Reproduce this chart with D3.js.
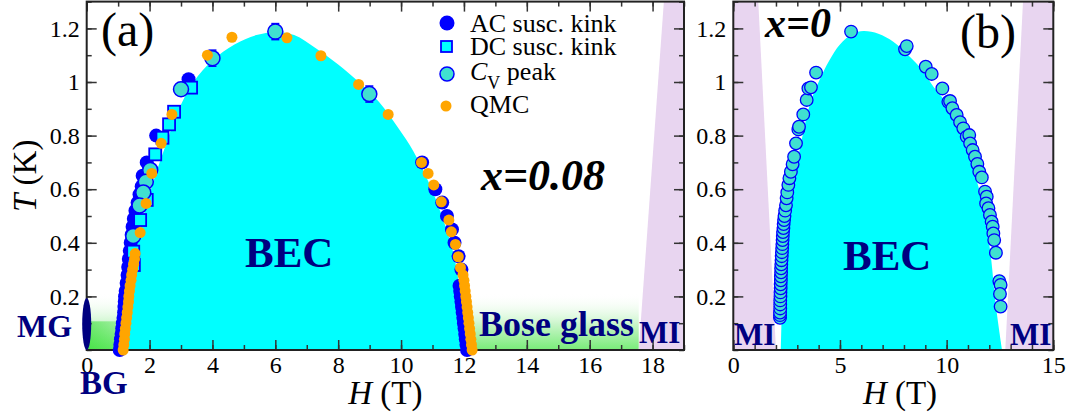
<!DOCTYPE html>
<html><head><meta charset="utf-8">
<script src="https://cdn.jsdelivr.net/npm/d3@7"></script>
<style>body{margin:0;background:#fff}</style>
</head><body>
<script>
// ---------------- DATA ----------------
// Panel (a), x = 0.08
const acH = [1.05,1.07,1.09,1.11,1.13,1.15,1.17,1.19,1.20,1.21,1.22,1.24,1.27,1.30,1.32,1.34,1.37,1.40,1.43,1.46,1.50,1.55,1.62,1.68,1.75,1.78,1.91,2.21,3.24,
             12.10,12.08,12.06,12.04,12.02,12.00,11.98,11.96,11.94,11.92,11.90,11.88,11.86,11.92,11.83,11.70,11.62,11.46,11.31,11.09,10.67];
const acT = [0.00,0.02,0.04,0.06,0.08,0.10,0.12,0.14,0.16,0.18,0.20,0.22,0.25,0.28,0.31,0.34,0.37,0.40,0.43,0.46,0.49,0.52,0.55,0.58,0.61,0.65,0.70,0.80,1.01,
             0.00,0.02,0.04,0.06,0.08,0.10,0.12,0.14,0.16,0.18,0.20,0.22,0.24,0.30,0.35,0.40,0.45,0.50,0.55,0.60,0.70];
const dcH = [3.32,2.78,2.62,2.41,2.18,1.91,1.70,1.48,1.50];
const dcT = [0.979,0.889,0.842,0.792,0.730,0.560,0.485,0.367,0.317];
const cvH = [6.00,4.00,8.99,3.00,2.02,1.88,1.80,1.68,1.48];
const cvT = [1.188,1.089,0.955,0.973,0.672,0.628,0.588,0.539,0.425];
const cvErr = [0.03,0.03,0.03,0,0,0,0,0,0];
const qmcH = [1.16,1.18,1.20,1.21,1.23,1.25,1.27,1.29,1.31,1.33,1.34,1.36,1.38,1.41,1.43,1.46,1.49,1.52,1.54,
              1.70,1.89,2.07,2.37,2.71,3.84,4.62,6.37,7.45,8.65,9.59,10.65,10.86,11.04,11.28,11.52,11.60,11.73,11.82,11.89,
              11.97,12.00,12.02,12.04,12.06,12.08,12.10,12.12,12.14,12.16,12.18,12.20,12.22,12.24,12.26];
const qmcT = [0.00,0.02,0.04,0.06,0.08,0.10,0.12,0.14,0.16,0.18,0.20,0.22,0.24,0.26,0.28,0.30,0.32,0.34,0.36,
              0.438,0.547,0.659,0.771,0.879,1.100,1.167,1.165,1.098,0.991,0.879,0.700,0.659,0.616,0.553,0.485,0.441,0.394,0.348,0.307,
              0.28,0.26,0.24,0.22,0.20,0.18,0.16,0.14,0.12,0.10,0.08,0.06,0.04,0.02,0.00];
// BEC dome boundary, panel (a)
const becAH = [1.27,1.38,1.55,1.85,2.15,2.50,2.90,3.40,4.00,4.70,5.40,6.00,6.60,7.30,8.00,8.70,9.30,9.90,10.40,10.90,11.30,11.60,11.80,11.92,11.98];
const becAT = [0.00,0.20,0.37,0.52,0.64,0.76,0.89,1.00,1.08,1.14,1.175,1.187,1.175,1.125,1.065,0.995,0.925,0.83,0.74,0.62,0.50,0.39,0.28,0.15,0.00];
// Bose glass and MI regions, panel (a)
const bgRegionH = [0, 17.56];
const bgRegionT = [0, 0.214];
const miAH = [17.56, 18.36, 19, 19];
const miAT = [0, 1.3, 1.3, 0];

// Panel (b), x = 0
const cvbH = [2.19,2.19,2.19,2.20,2.20,2.20,2.21,2.21,2.22,2.22,2.23,2.23,2.24,2.24,2.25,2.26,2.27,2.28,2.29,2.30,2.31,2.32,2.33,2.35,2.36,2.38,2.40,2.43,2.47,
              2.50,2.53,2.58,2.63,2.70,2.78,2.85,2.94,3.05,3.08,3.28,3.44,3.52,3.64,3.88,5.52,
              8.05,8.13,9.02,9.30,9.80,10.08,10.16,10.27,10.47,10.63,10.78,10.94,11.06,11.10,11.22,11.33,11.44,11.53,11.65,11.80,11.88,
              11.85,11.96,12.03,12.11,12.16,12.19,12.23,12.31,12.47,12.53,12.50,12.53];
const cvbT = [0.12,0.13,0.14,0.155,0.17,0.185,0.20,0.215,0.23,0.245,0.26,0.275,0.29,0.305,0.32,0.335,0.35,0.365,0.38,0.395,0.41,0.425,0.44,0.455,0.47,0.485,0.50,0.52,0.54,
              0.566,0.588,0.616,0.641,0.665,0.693,0.721,0.771,0.823,0.833,0.879,0.933,0.976,0.980,1.035,1.188,
              1.122,1.134,1.057,1.030,0.976,0.926,0.929,0.902,0.877,0.850,0.827,0.796,0.802,0.771,0.746,0.721,0.694,0.665,0.644,0.591,0.572,
              0.547,0.529,0.504,0.479,0.460,0.435,0.410,0.363,0.257,0.243,0.209,0.162];
const becBH = [2.23,2.28,2.38,2.55,2.80,3.00,3.30,3.60,4.00,4.50,5.00,5.60,6.10,6.80,7.50,8.20,8.80,9.40,9.90,10.40,10.90,11.30,11.65,11.90,12.10,12.27,12.45,12.60];
const becBT = [0.00,0.15,0.30,0.45,0.60,0.70,0.82,0.92,1.00,1.08,1.14,1.18,1.19,1.18,1.15,1.10,1.05,0.98,0.93,0.85,0.75,0.66,0.56,0.45,0.33,0.19,0.08,0.00];
const miBLeftH = [0, 2.0, 1.17, 0];
const miBLeftT = [0, 0, 1.3, 1.3];
const miBRightH = [12.75, 13.58, 15, 15];
const miBRightT = [0, 1.3, 1.3, 0];

// ticks
const xTicksA = [0,2,4,6,8,10,12,14,16,18];
const xTicksB = [0,5,10,15];
const yTicks = [0.2,0.4,0.6,0.8,1,1.2];
const legendLabels = ["AC susc. kink","DC susc. kink","C","QMC"];

// ---------------- DRAW ----------------
const W = 1072, H = 415;
const FONT = "Liberation Serif";
const NAVY = "#000080";
const svg = d3.select("body").append("svg").attr("width", W).attr("height", H);
const defs = svg.append("defs");
const grad = defs.append("linearGradient").attr("id","bgGrad").attr("x1",0).attr("x2",0).attr("y1",0).attr("y2",1);
grad.append("stop").attr("offset",0).attr("stop-color","#ffffff").attr("stop-opacity",0);
grad.append("stop").attr("offset",0.55).attr("stop-color","#c9f5c9").attr("stop-opacity",1);
grad.append("stop").attr("offset",1).attr("stop-color","#78ec78").attr("stop-opacity",1);
const grad2 = defs.append("linearGradient").attr("id","bgGrad2").attr("x1",0).attr("x2",1).attr("y1",0).attr("y2",0);
grad2.append("stop").attr("offset",0).attr("stop-color","#22dd22").attr("stop-opacity",0.55);
grad2.append("stop").attr("offset",0.12).attr("stop-color","#22dd22").attr("stop-opacity",0);

const yA = d3.scaleLinear([0,1.3],[350,1.6]);
const xA = d3.scaleLinear([0,19],[86.7,684]);
const xB = d3.scaleLinear([0,15],[733.3,1053.3]);
const yB = yA;

const zip = (a,b,c) => a.map((v,i)=>({h:v,t:b[i],e:c?c[i]:0}));
const poly = (x,y,hs,ts) => hs.map((h,i)=>[x(h),y(ts[i])].join(",")).join(" ");

function drawAxes(g, x, y, xMajor, xStep, xMax) {
  const xMinor = d3.range(0, xMax + 1e-9, xStep);
  const yMinor = d3.range(0, 1.3 + 1e-9, 0.1);
  const style = sel => {
    sel.select(".domain").remove();
    sel.selectAll("line").attr("stroke","#333").attr("stroke-width",1.5);
    sel.attr("font-family", FONT).attr("font-size", 24);
    sel.selectAll("text").attr("fill","#000");
  };
  g.append("g").attr("transform",`translate(0,${y(0)})`).call(d3.axisBottom(x).tickValues(xMinor).tickSize(-5).tickFormat("")).call(style);
  g.append("g").attr("transform",`translate(0,${y(1.3)})`).call(d3.axisTop(x).tickValues(xMinor).tickSize(-5).tickFormat("")).call(style);
  g.append("g").attr("transform",`translate(${x(0)},0)`).call(d3.axisLeft(y).tickValues(yMinor).tickSize(-5).tickFormat("")).call(style);
  g.append("g").attr("transform",`translate(${x(xMax)},0)`).call(d3.axisRight(y).tickValues(yMinor).tickSize(-5).tickFormat("")).call(style);
  g.append("g").attr("transform",`translate(0,${y(0)})`).call(d3.axisBottom(x).tickValues(xMajor).tickSize(-10).tickPadding(6).tickFormat(d=>d)).call(style);
  g.append("g").attr("transform",`translate(0,${y(1.3)})`).call(d3.axisTop(x).tickValues(xMajor).tickSize(-10).tickFormat("")).call(style);
  g.append("g").attr("transform",`translate(${x(0)},0)`).call(d3.axisLeft(y).tickValues(yTicks).tickSize(-10).tickPadding(7).tickFormat(d=>d)).call(style);
  g.append("g").attr("transform",`translate(${x(xMax)},0)`).call(d3.axisRight(y).tickValues(yTicks).tickSize(-10).tickFormat("")).call(style);
  g.append("rect").attr("x",x(0)).attr("y",y(1.3)).attr("width",x(xMax)-x(0)).attr("height",y(0)-y(1.3))
    .attr("fill","none").attr("stroke","#222").attr("stroke-width",2);
}

const dome = (x,y) => d3.area().x(d=>x(d.h)).y0(y(0)).y1(d=>y(d.t)).curve(d3.curveCatmullRom.alpha(0.5));

// ===== Panel (a) =====
const ga = svg.append("g");
ga.append("rect").attr("x",xA(bgRegionH[0])).attr("y",yA(bgRegionT[1])).attr("width",xA(bgRegionH[1])-xA(bgRegionH[0])).attr("height",yA(bgRegionT[0])-yA(bgRegionT[1])).attr("fill","url(#bgGrad)");
ga.append("rect").attr("x",xA(bgRegionH[0])).attr("y",yA(bgRegionT[1]*0.5)).attr("width",xA(bgRegionH[1])-xA(bgRegionH[0])).attr("height",yA(0)-yA(bgRegionT[1]*0.5)).attr("fill","url(#bgGrad2)");
ga.append("polygon").attr("points",poly(xA,yA,miAH,miAT)).attr("fill","#e8d5f0");
ga.append("path").datum(zip(becAH,becAT)).attr("d",dome(xA,yA)).attr("fill","#00ffff");
drawAxes(ga, xA, yA, xTicksA, 1, 19);

ga.append("ellipse").attr("cx",xA(0)).attr("cy",yA(0.097)).attr("rx",4.5).attr("ry",26).attr("fill",NAVY);

ga.append("g").selectAll("circle").data(zip(acH,acT)).join("circle")
  .attr("cx",d=>xA(d.h)).attr("cy",d=>yA(d.t)).attr("r",7).attr("fill","#0000ff");
ga.append("g").selectAll("rect").data(zip(dcH,dcT)).join("rect")
  .attr("x",d=>xA(d.h)-6).attr("y",d=>yA(d.t)-6).attr("width",12).attr("height",12)
  .attr("fill","#00ffff").attr("stroke","#0000ff").attr("stroke-width",1.8);
const eb = ga.append("g").attr("stroke","#0000ff").attr("stroke-width",1.5);
zip(cvH,cvT,cvErr).filter(d=>d.e>0).forEach(d=>{
  eb.append("line").attr("x1",xA(d.h)).attr("x2",xA(d.h)).attr("y1",yA(d.t-d.e)).attr("y2",yA(d.t+d.e));
  eb.append("line").attr("x1",xA(d.h)-4).attr("x2",xA(d.h)+4).attr("y1",yA(d.t-d.e)).attr("y2",yA(d.t-d.e));
  eb.append("line").attr("x1",xA(d.h)-4).attr("x2",xA(d.h)+4).attr("y1",yA(d.t+d.e)).attr("y2",yA(d.t+d.e));
});
ga.append("g").selectAll("circle").data(zip(cvH,cvT)).join("circle")
  .attr("cx",d=>xA(d.h)).attr("cy",d=>yA(d.t)).attr("r",7.5)
  .attr("fill","#40e0d0").attr("stroke","#0000ff").attr("stroke-width",1.5);
ga.append("g").selectAll("circle").data(zip(qmcH,qmcT)).join("circle")
  .attr("cx",d=>xA(d.h)).attr("cy",d=>yA(d.t)).attr("r",5.5).attr("fill","#ffa500");

// legend
const lg = ga.append("g").attr("font-family",FONT).attr("font-size",26);
lg.append("circle").attr("cx",447).attr("cy",23).attr("r",7.5).attr("fill","#0000ff");
lg.append("rect").attr("x",441).attr("y",41).attr("width",11).attr("height",11).attr("fill","#00ffff").attr("stroke","#0000ff").attr("stroke-width",1.8);
lg.append("circle").attr("cx",447).attr("cy",74).attr("r",7).attr("fill","#40e0d0").attr("stroke","#0000ff").attr("stroke-width",1.5);
lg.append("circle").attr("cx",446).attr("cy",106).attr("r",5.5).attr("fill","#ffa500");
lg.append("text").attr("x",470).attr("y",32).text(legendLabels[0]);
lg.append("text").attr("x",470).attr("y",55).text(legendLabels[1]);
const cvt = lg.append("text").attr("x",470).attr("y",80);
cvt.append("tspan").attr("font-style","italic").text(legendLabels[2]);
cvt.append("tspan").attr("font-size",18).attr("dy",9).text("V");
cvt.append("tspan").attr("dy",-9).text(" peak");
lg.append("text").attr("x",470).attr("y",113).text(legendLabels[3]);

// labels (a)
ga.append("text").attr("x",101).attr("y",46).attr("font-family",FONT).attr("font-size",48).text("(a)");
ga.append("text").attr("x",481).attr("y",190).attr("font-family",FONT).attr("font-size",44).attr("font-weight","bold").attr("font-style","italic").text("x=0.08");
ga.append("text").attr("x",245).attr("y",267).attr("font-family",FONT).attr("font-size",43).attr("font-weight","bold").attr("fill",NAVY).text("BEC");
ga.append("text").attr("x",479).attr("y",336).attr("font-family",FONT).attr("font-size",36).attr("font-weight","bold").attr("fill",NAVY).text("Bose glass");
ga.append("text").attr("x",639).attr("y",343).attr("font-family",FONT).attr("font-size",31).attr("font-weight","bold").attr("fill",NAVY).text("MI");
ga.append("text").attr("x",17).attr("y",337).attr("font-family",FONT).attr("font-size",32).attr("font-weight","bold").attr("fill",NAVY).text("MG");
ga.append("text").attr("x",80).attr("y",394).attr("font-family",FONT).attr("font-size",33).attr("font-weight","bold").attr("fill",NAVY).text("BG");
const xtA = ga.append("text").attr("x",(xA(0)+xA(19))/2).attr("y",404).attr("text-anchor","middle").attr("font-family",FONT).attr("font-size",33);
xtA.append("tspan").attr("font-style","italic").text("H");
xtA.append("tspan").text(" (T)");
const ytA = ga.append("text").attr("transform",`translate(36,${(yA(0)+yA(1.3))/2}) rotate(-90)`).attr("text-anchor","middle").attr("font-family",FONT).attr("font-size",33);
ytA.append("tspan").attr("font-style","italic").text("T");
ytA.append("tspan").text(" (K)");

// ===== Panel (b) =====
const gb = svg.append("g");
gb.append("polygon").attr("points",poly(xB,yB,miBLeftH,miBLeftT)).attr("fill","#e8d5f0");
gb.append("polygon").attr("points",poly(xB,yB,miBRightH,miBRightT)).attr("fill","#e8d5f0");
gb.append("path").datum(zip(becBH,becBT)).attr("d",dome(xB,yB)).attr("fill","#00ffff");
drawAxes(gb, xB, yB, xTicksB, 1, 15);
gb.append("g").selectAll("circle").data(zip(cvbH,cvbT)).join("circle")
  .attr("cx",d=>xB(d.h)).attr("cy",d=>yB(d.t)).attr("r",6.3)
  .attr("fill","#40e0d0").attr("stroke","#0000ff").attr("stroke-width",1.3);
gb.append("text").attr("x",960).attr("y",48).attr("font-family",FONT).attr("font-size",48).text("(b)");
gb.append("text").attr("x",765).attr("y",37).attr("font-family",FONT).attr("font-size",42).attr("font-weight","bold").attr("font-style","italic").text("x=0");
gb.append("text").attr("x",843).attr("y",270).attr("font-family",FONT).attr("font-size",43).attr("font-weight","bold").attr("fill",NAVY).text("BEC");
gb.append("text").attr("x",734).attr("y",345).attr("font-family",FONT).attr("font-size",31).attr("font-weight","bold").attr("fill",NAVY).text("MI");
gb.append("text").attr("x",1010).attr("y",345).attr("font-family",FONT).attr("font-size",31).attr("font-weight","bold").attr("fill",NAVY).text("MI");
const xtB = gb.append("text").attr("x",900).attr("y",404).attr("text-anchor","middle").attr("font-family",FONT).attr("font-size",33);
xtB.append("tspan").attr("font-style","italic").text("H");
xtB.append("tspan").text(" (T)");
</script>
</body></html>
